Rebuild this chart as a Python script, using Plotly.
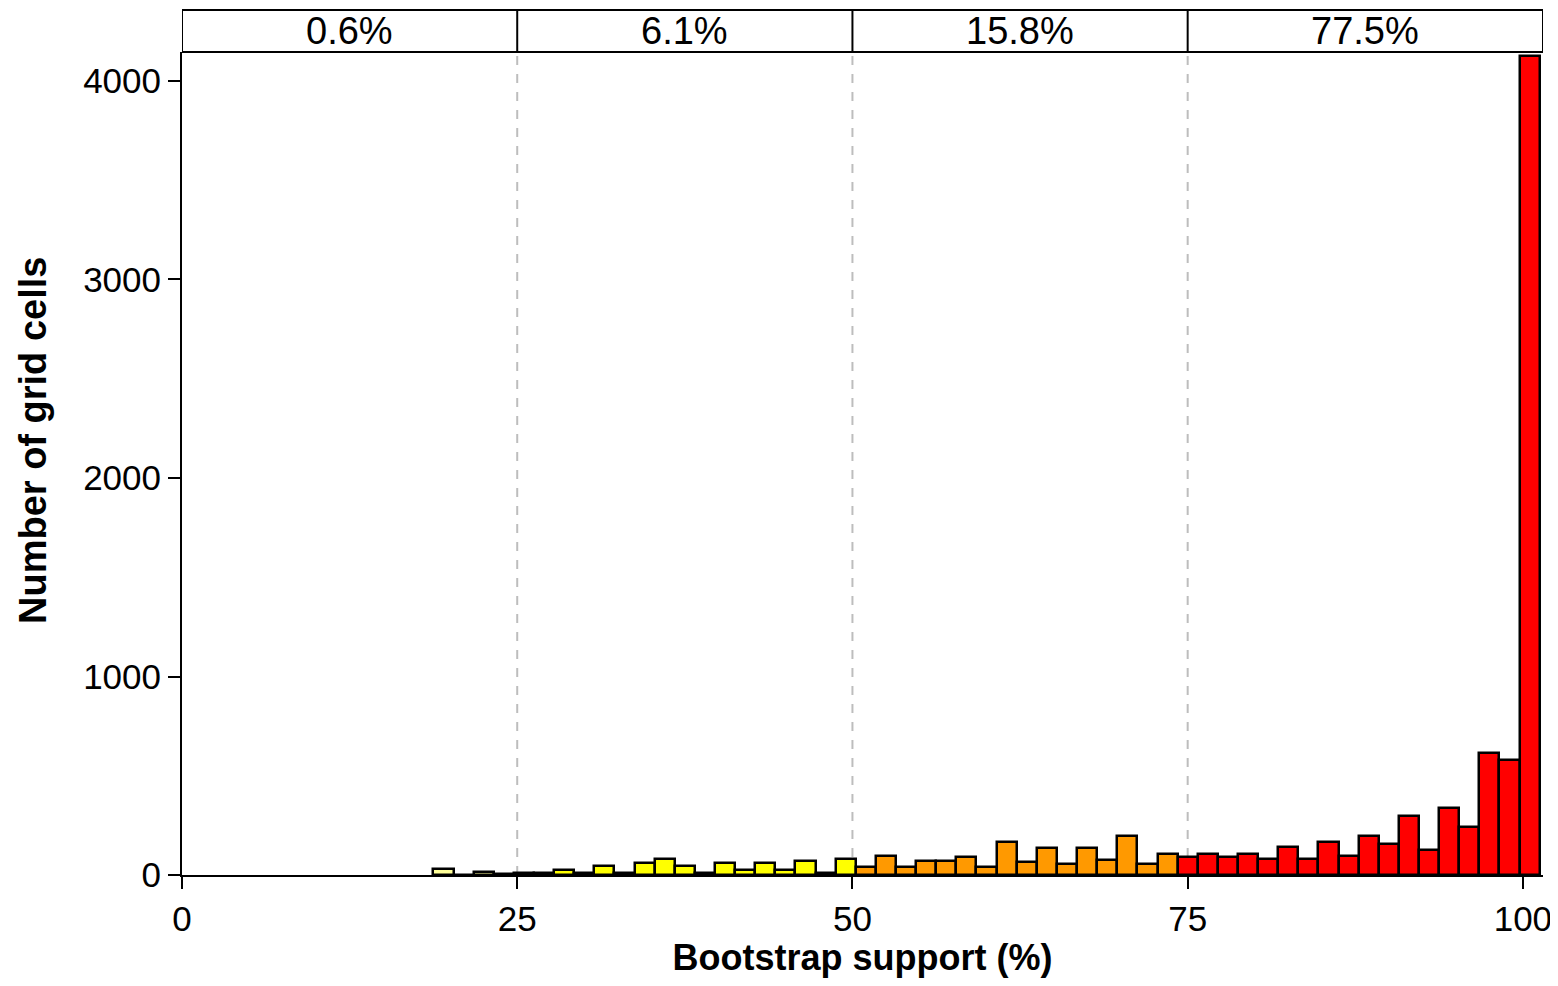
import plotly.graph_objects as go

# Bin centres (bootstrap support, %), bin width 1.5
bin_centers = [19.5, 21, 22.5, 24, 25.5, 27, 28.5, 30, 31.5, 33, 34.5, 36, 37.5, 39,
               40.5, 42, 43.5, 45, 46.5, 48, 49.5, 51, 52.5, 54, 55.5, 57, 58.5, 60,
               61.5, 63, 64.5, 66, 67.5, 69, 70.5, 72, 73.5, 75, 76.5, 78, 79.5, 81,
               82.5, 84, 85.5, 87, 88.5, 90, 91.5, 93, 94.5, 96, 97.5, 99, 100.5]
counts = [30, 2, 15, 3, 8, 10, 25, 10, 45, 12, 60, 80, 45, 12,
          60, 25, 60, 25, 70, 12, 80, 40, 95, 40, 70, 70, 92, 40,
          165, 68, 138, 55, 138, 78, 195, 55, 108, 92, 107, 90, 107, 80,
          140, 80, 165, 95, 195, 155, 295, 125, 340, 240, 615, 580, 4125]

class_edges = [25, 50, 75]
strip_labels = ["0.6%", "6.1%", "15.8%", "77.5%"]
x_ticks = [0, 25, 50, 75, 100]
y_ticks = [0, 1000, 2000, 3000, 4000]

X_MAX = 101.5
Y_MAX = 4146

def bar_color(v):
    if v < 25:
        return "#FFFF99"
    if v < 50:
        return "#FFFF00"
    if v < 75:
        return "#FF9900"
    return "#FF0000"

colors = [bar_color(c) for c in bin_centers]

FONT = "Tahoma, 'Liberation Sans', Arial, sans-serif"
BOLD = "'Liberation Sans', Arial, sans-serif"

PLOT_H = 823
fig = go.Figure()
fig.add_trace(go.Bar(
    x=bin_centers, y=counts, width=1.5,
    marker=dict(color=colors, line=dict(color="black", width=2.5)),
    showlegend=False, hoverinfo="x+y",
))

shapes = []
for e in class_edges:
    shapes.append(dict(type="line", xref="x", yref="paper", x0=e, x1=e, y0=0, y1=1,
                       line=dict(color="#BDBDBD", width=2, dash="dash"), layer="below"))
strip_top = 1 + 42 / PLOT_H
shapes.append(dict(type="rect", xref="x", yref="paper", x0=0, x1=X_MAX, y0=1, y1=strip_top,
                   line=dict(color="black", width=2), fillcolor="white"))
for e in class_edges:
    shapes.append(dict(type="line", xref="x", yref="paper", x0=e, x1=e, y0=1, y1=strip_top,
                       line=dict(color="black", width=2)))

annotations = []
bounds = [0] + class_edges + [X_MAX]
for i, lab in enumerate(strip_labels):
    annotations.append(dict(x=(bounds[i] + bounds[i + 1]) / 2, y=(1 + strip_top) / 2,
                            xref="x", yref="paper", text=lab, showarrow=False,
                            font=dict(family=FONT, size=38, color="black"),
                            xanchor="center", yanchor="middle"))
annotations.append(dict(x=-(182 - 33) / 1361, y=(875 - 441) / PLOT_H, xref="paper", yref="paper",
                        text="<b>Number of grid cells</b>", textangle=-90, showarrow=False,
                        font=dict(family=BOLD, size=38, color="black"),
                        xanchor="center", yanchor="middle"))

fig.update_layout(
    width=1550, height=970,
    margin=dict(l=174, r=15, t=44, b=103),
    paper_bgcolor="white", plot_bgcolor="white",
    shapes=shapes, annotations=annotations,
    bargap=0,
    xaxis=dict(range=[0, X_MAX], tickvals=x_ticks, ticktext=[str(t) for t in x_ticks],
               showline=True, linecolor="black", linewidth=2, ticks="outside",
               ticklen=12, tickwidth=2, tickcolor="black", showgrid=False, zeroline=False,
               ticklabeloverflow="allow", automargin=False,
               tickfont=dict(family=FONT, size=35, color="black"),
               title=dict(text="<b>Bootstrap support (%)</b>", standoff=6,
                          font=dict(family=BOLD, size=36, color="black"))),
    yaxis=dict(range=[0, Y_MAX], tickvals=y_ticks, ticktext=[str(t) for t in y_ticks],
               showline=True, linecolor="black", linewidth=2, ticks="outside",
               ticklen=12, tickwidth=2, tickcolor="black", showgrid=False, zeroline=False,
               automargin=False,
               tickfont=dict(family=FONT, size=35, color="black")),
)

fig.write_html("out.html")
